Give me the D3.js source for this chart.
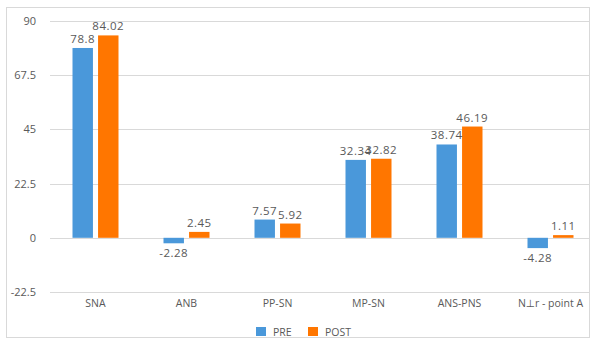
<!DOCTYPE html>
<html>
<head>
<meta charset="utf-8">
<script src="https://cdn.jsdelivr.net/npm/d3@7"></script>
<style>
  body { margin: 0; background: #fff; }
  text { font-family: "Open Sans", "DejaVu Sans", sans-serif; fill: #595959; }
</style>
</head>
<body>
<div id="chart"></div>
<script>
const categories = ["SNA", "ANB", "PP-SN", "MP-SN", "ANS-PNS", "N\u22A5r - point A"];
const preValues = [78.8, -2.28, 7.57, 32.34, 38.74, -4.28];
const postValues = [84.02, 2.45, 5.92, 32.82, 46.19, 1.11];
const seriesNames = ["PRE", "POST"];
const yTicks = [-22.5, 0, 22.5, 45, 67.5, 90];

const colors = ["#4a98da", "#ff7600"];
const W = 595, H = 343;

const svg = d3.select("#chart").append("svg")
    .attr("width", W)
    .attr("height", H);

// outer frame
svg.append("rect")
    .attr("x", 6.5).attr("y", 7.5)
    .attr("width", 583).attr("height", 330)
    .attr("fill", "none")
    .attr("stroke", "#d9d9d9");

const y = d3.scaleLinear().domain([-22.5, 90]).range([292, 21]);
const x = d3.scaleBand().domain(categories).range([50, 596]).paddingInner(0).paddingOuter(0);
const xSub = d3.scaleBand().domain(seriesNames).range([x.bandwidth() / 2 - 23, x.bandwidth() / 2 + 23]).paddingInner(0.2);

// gridlines + y labels
svg.append("g")
    .selectAll("line")
    .data(yTicks)
    .enter().append("line")
    .attr("x1", 50).attr("x2", 590)
    .attr("y1", d => Math.round(y(d)) + 0.5)
    .attr("y2", d => Math.round(y(d)) + 0.5)
    .attr("stroke", "#d9d9d9");

svg.append("g")
    .selectAll("text")
    .data(yTicks)
    .enter().append("text")
    .attr("x", 36)
    .attr("y", d => y(d) + 4)
    .attr("text-anchor", "end")
    .style("font-size", "11px")
    .text(d => d);

// bars
const rows = categories.map((c, i) => ({cat: c, vals: [preValues[i], postValues[i]]}));

const groups = svg.append("g")
    .selectAll("g")
    .data(rows)
    .enter().append("g")
    .attr("transform", d => `translate(${x(d.cat)},0)`);

groups.selectAll("rect")
    .data(d => d.vals.map((v, k) => ({v: v, s: seriesNames[k], k: k})))
    .enter().append("rect")
    .attr("x", d => xSub(d.s))
    .attr("width", xSub.bandwidth())
    .attr("y", d => y(Math.max(0, d.v)))
    .attr("height", d => Math.abs(y(d.v) - y(0)))
    .attr("fill", d => colors[d.k]);

groups.selectAll("text")
    .data(d => d.vals.map((v, k) => ({v: v, s: seriesNames[k]})))
    .enter().append("text")
    .attr("x", d => xSub(d.s) + xSub.bandwidth() / 2)
    .attr("y", d => d.v >= 0 ? y(d.v) - 5 : y(d.v) + 14)
    .attr("text-anchor", "middle")
    .style("font-size", "11.5px")
    .style("letter-spacing", "0.5px")
    .text(d => d.v);

// category labels
svg.append("g")
    .selectAll("text")
    .data(categories)
    .enter().append("text")
    .attr("x", d => x(d) + x.bandwidth() / 2)
    .attr("y", 307)
    .attr("text-anchor", "middle")
    .style("font-size", "10.5px")
    .text(d => d);

// legend
const legend = svg.append("g").attr("transform", "translate(256,327)");
const legendX = [0, 52];
seriesNames.forEach((s, k) => {
    legend.append("rect")
        .attr("x", legendX[k]).attr("y", 0)
        .attr("width", 10).attr("height", 9)
        .attr("fill", colors[k]);
    legend.append("text")
        .attr("x", legendX[k] + 17).attr("y", 9)
        .style("font-size", "10.5px")
        .text(s);
});
</script>
</body>
</html>
